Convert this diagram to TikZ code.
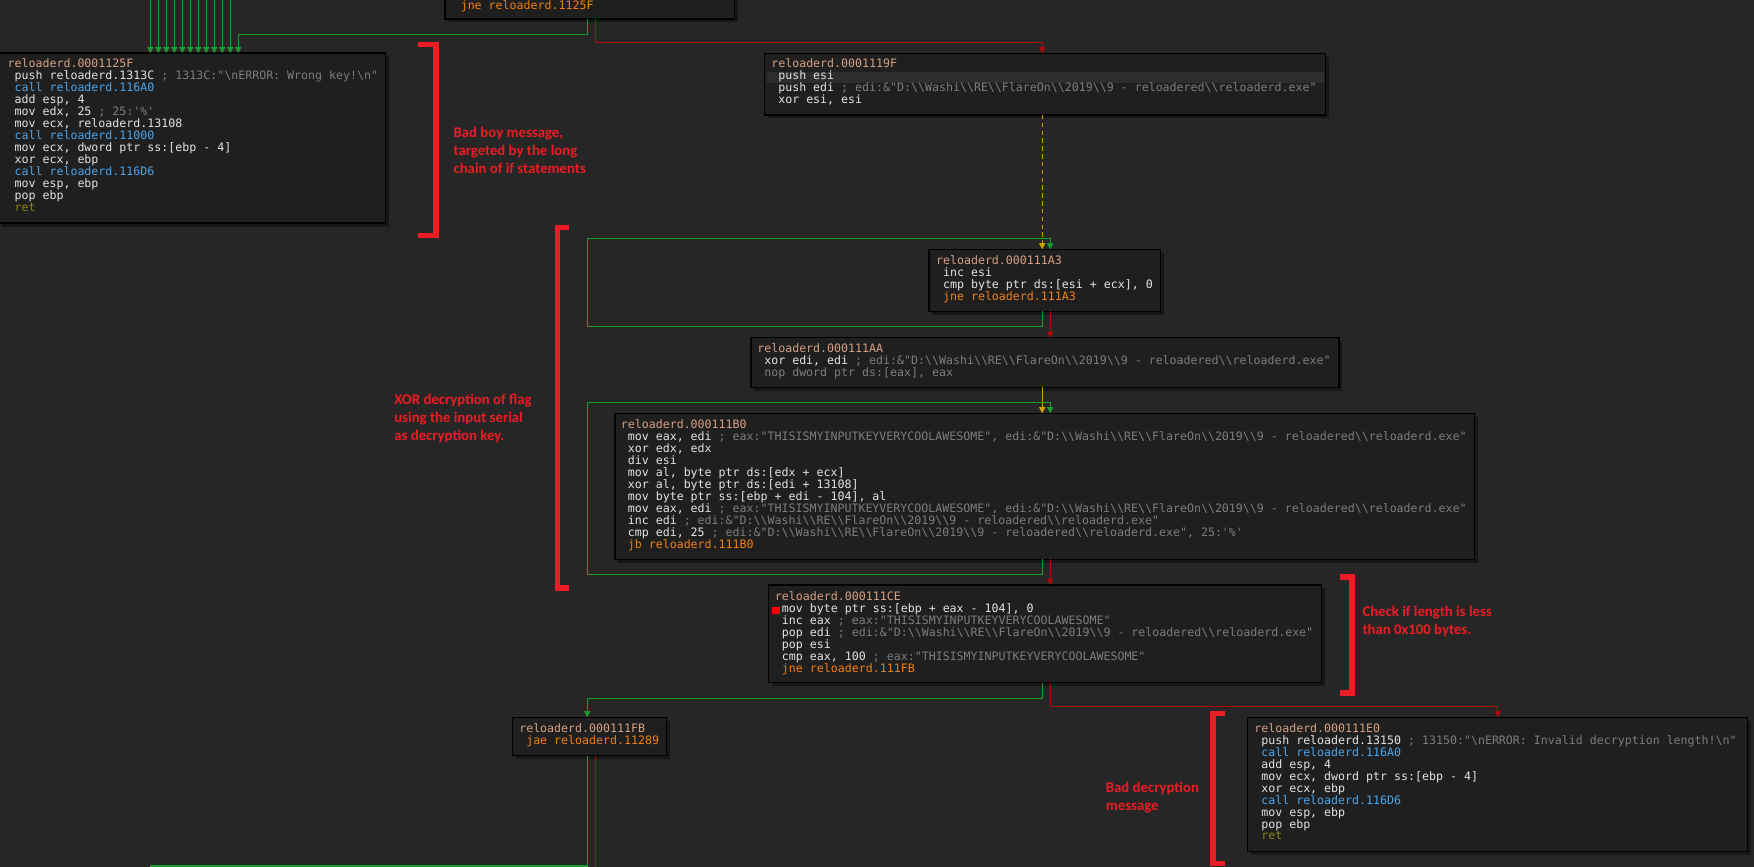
\documentclass[tikz,border=0pt]{standalone}
\usepackage{fontspec}
\setmonofont{DejaVu Sans Mono}
\newfontfamily\lblfamily{Carlito}
\usetikzlibrary{arrows.meta}

\definecolor{bgc}{RGB}{38,38,38}
\definecolor{boxc}{RGB}{31,31,31}
\definecolor{shadowc}{RGB}{22,22,22}
\definecolor{hlc}{RGB}{45,45,45}
\definecolor{addrc}{RGB}{214,160,130}
\definecolor{insc}{RGB}{228,228,228}
\definecolor{cmtc}{RGB}{125,125,125}
\definecolor{callc}{RGB}{75,165,235}
\definecolor{jmpc}{RGB}{240,128,20}
\definecolor{retc}{RGB}{135,135,20}
\definecolor{gedgec}{RGB}{25,155,45}
\definecolor{redgec}{RGB}{175,10,10}
\definecolor{yedgec}{RGB}{205,160,0}
\definecolor{notec}{RGB}{237,28,36}

\newcommand\codefont{\ttfamily\fontsize{10.38}{10.7}\selectfont\lineskiplimit=-100pt\frenchspacing}
\newcommand\notefont{\lblfamily\bfseries\fontsize{13.2}{16.1}\selectfont\lineskiplimit=-100pt}
\newcommand\asmH[1]{\hbox{\color{addrc}#1}}
\newcommand\asmI[1]{\hbox{\hphantom{0}#1}}
\newcommand\Cm[1]{\textcolor{cmtc}{#1}}
\newcommand\Cl[1]{\textcolor{callc}{#1}}
\newcommand\Jp[1]{\textcolor{jmpc}{#1}}
\newcommand\Rt[1]{\textcolor{retc}{#1}}
\newcommand\dbs{\textbackslash\textbackslash}
\newcommand\PathStr{"D:\dbs Washi\dbs RE\dbs FlareOn\dbs 2019\dbs 9 - reloadered\dbs reloaderd.exe"}
\newcommand\KeyStr{"THISISMYINPUTKEYVERYCOOLAWESOME"}

\tikzset{
  blk/.style={draw=black, fill=boxc, line width=1.3pt, inner sep=0pt, outer sep=0pt},
  code/.style={anchor=base west, inner sep=0pt, outer sep=0pt, text=insc, font=\codefont},
  note/.style={anchor=base west, inner sep=0pt, outer sep=0pt, text=notec, font=\notefont},
  edge/.style={line width=1pt, -{Triangle[width=5.5pt,length=5.5pt]}},
  gedge/.style={edge, draw=gedgec},
  redge/.style={edge, draw=redgec},
  yedge/.style={edge, draw=yedgec},
  plain/.style={line width=1pt},
  brk/.style={draw=notec, line width=5pt, line join=miter}
}

\newcommand\asmblock[5]{%
  \fill[shadowc] ({(#2)+3},{(#3)+3}) rectangle ({(#4)+3},{(#5)+3});
  \node[blk, minimum width={(#4)-(#2)}, minimum height={(#5)-(#3)}, anchor=north west] (#1) at (#2,#3) {};
}

\begin{document}
\begin{tikzpicture}[x=1pt, y=-1pt]
\useasboundingbox (0,0) rectangle (1568,775);
\clip (0,0) rectangle (1568,775);
\fill[bgc] (0,0) rectangle (1568,775);

% column coordinates
\coordinate (cL) at (931.7,0);
\coordinate (cR) at (938.8,0);
\coordinate (dL) at (525,0);
\coordinate (dR) at (532.4,0);
\coordinate (bIn) at (213,0);
\coordinate (iIn) at (1339,0);
\coordinate (loopD) at (525,213);
\coordinate (loopF) at (525,359.7);
\coordinate (hEnd) at (134,774.2);
\coordinate (hRed) at (532.4,790);

% blocks
\asmblock{A}{398}{-30}{656.5}{17}
\asmblock{B}{-1}{47.5}{344.5}{199.5}
\asmblock{C}{683.5}{47.7}{1185}{102.8}
\asmblock{D}{830.5}{222.9}{1037.4}{278.3}
\asmblock{E}{671.4}{301.9}{1197}{346.2}
\asmblock{F}{549.8}{369.5}{1318}{500}
\asmblock{G}{687}{523}{1181.5}{610.3}
\asmblock{H}{458.2}{641.3}{596}{675.6}
\asmblock{I}{1115.2}{641.3}{1562}{761}

% highlighted row in C and breakpoint marker in G
\fill[hlc] (685.5,64.1) rectangle (1184,74.5);
\fill[red] (690.5,542.3) rectangle (697,549);

% edges
\foreach \k in {0,...,10}{
  \coordinate (gt\k) at ({134.4+7.15*\k},-5);
  \draw[gedge] (gt\k) -- (gt\k |- B.north);
}
\draw[gedge] (A.south -| dL) -- ++(0,13.6) -| (B.north -| bIn);
\draw[redge] (A.south -| dR) -- ++(0,20.9) -| (C.north -| cL);
\draw[yedge, dash pattern=on 4pt off 3pt] (C.south -| cL) -- (D.north -| cL);
\draw[gedge] (D.south -| cL) -- ++(0,13.2) -| (loopD) -| (D.north -| cR);
\draw[redge] (D.south -| cR) -- (E.north -| cR);
\draw[yedge] (E.south -| cL) -- (F.north -| cL);
\draw[gedge] (F.south -| cL) -- ++(0,13.4) -| (loopF) -| (F.north -| cR);
\draw[redge] (F.south -| cR) -- (G.north -| cR);
\draw[gedge] (G.south -| cL) -- ++(0,14.2) -| (H.north -| dL);
\draw[redge] (G.south -| cR) -- ++(0,21.5) -| (I.north -| iIn);
\draw[plain, draw=gedgec] (H.south -| dL) |- (hEnd);
\draw[plain, draw=redgec] (H.south -| dR) -- (hRed);

% block texts
\node[code] (tA) at (411.9,8.6) {\hbox{\Jp{jne reloaderd.1125F}}};

\node[code] (tB) at (6.8,60.7) {\vtop{%
\asmH{reloaderd.0001125F}
\asmI{push reloaderd.1313C\Cm{\ ; 1313C:"\textbackslash nERROR: Wrong key!\textbackslash n"}}
\asmI{\Cl{call reloaderd.116A0}}
\asmI{add esp, 4}
\asmI{mov edx, 25\Cm{\ ; 25:'\%'}}
\asmI{mov ecx, reloaderd.13108}
\asmI{\Cl{call reloaderd.11000}}
\asmI{mov ecx, dword ptr ss:[ebp - 4]}
\asmI{xor ecx, ebp}
\asmI{\Cl{call reloaderd.116D6}}
\asmI{mov esp, ebp}
\asmI{pop ebp}
\asmI{\Rt{ret}}}};

\node[code] (tC) at (689.5,60.7) {\vtop{%
\asmH{reloaderd.0001119F}
\asmI{push esi}
\asmI{push edi\Cm{\ ; edi:\&\PathStr}}
\asmI{xor esi, esi}}};

\node[code] (tD) at (836.8,236.5) {\vtop{%
\asmH{reloaderd.000111A3}
\asmI{inc esi}
\asmI{cmp byte ptr ds:[esi + ecx], 0}
\asmI{\Jp{jne reloaderd.111A3}}}};

\node[code] (tE) at (677,315.2) {\vtop{%
\asmH{reloaderd.000111AA}
\asmI{xor edi, edi\Cm{\ ; edi:\&\PathStr}}
\asmI{\Cm{nop dword ptr ds:[eax], eax}}}};

\node[code] (tF) at (555,383.4) {\vtop{%
\asmH{reloaderd.000111B0}
\asmI{mov eax, edi\Cm{\ ; eax:\KeyStr, edi:\&\PathStr}}
\asmI{xor edx, edx}
\asmI{div esi}
\asmI{mov al, byte ptr ds:[edx + ecx]}
\asmI{xor al, byte ptr ds:[edi + 13108]}
\asmI{mov byte ptr ss:[ebp + edi - 104], al}
\asmI{mov eax, edi\Cm{\ ; eax:\KeyStr, edi:\&\PathStr}}
\asmI{inc edi\Cm{\ ; edi:\&\PathStr}}
\asmI{cmp edi, 25\Cm{\ ; edi:\&\PathStr, 25:'\%'}}
\asmI{\Jp{jb reloaderd.111B0}}}};

\node[code] (tG) at (692.8,536.6) {\vtop{%
\asmH{reloaderd.000111CE}
\asmI{mov byte ptr ss:[ebp + eax - 104], 0}
\asmI{inc eax\Cm{\ ; eax:\KeyStr}}
\asmI{pop edi\Cm{\ ; edi:\&\PathStr}}
\asmI{pop esi}
\asmI{cmp eax, 100\Cm{\ ; eax:\KeyStr}}
\asmI{\Jp{jne reloaderd.111FB}}}};

\node[code] (tH) at (464.2,654.9) {\vtop{%
\asmH{reloaderd.000111FB}
\asmI{\Jp{jae reloaderd.11289}}}};

\node[code] (tI) at (1121.3,654.6) {\vtop{%
\asmH{reloaderd.000111E0}
\asmI{push reloaderd.13150\Cm{\ ; 13150:"\textbackslash nERROR: Invalid decryption length!\textbackslash n"}}
\asmI{\Cl{call reloaderd.116A0}}
\asmI{add esp, 4}
\asmI{mov ecx, dword ptr ss:[ebp - 4]}
\asmI{xor ecx, ebp}
\asmI{\Cl{call reloaderd.116D6}}
\asmI{mov esp, ebp}
\asmI{pop ebp}
\asmI{\Rt{ret}}}};

% annotation brackets
\draw[brk] (373.6,39.8) -- (389.5,39.8) -- (389.5,210.5) -- (373.6,210.5);
\draw[brk] (509,203.5) -- (498.5,203.5) -- (498.5,525.5) -- (509,525.5);
\draw[brk] (1198,516) -- (1208.8,516) -- (1208.8,619.7) -- (1198,619.7);
\draw[brk] (1095,638) -- (1084.6,638) -- (1084.6,772) -- (1095,772);

% annotations
\node[note] (n1) at (405.5,122.8) {\vtop{\hbox{Bad boy message,}\hbox{targeted by the long}\hbox{chain of if statements}}};
\node[note] (n2) at (352.5,361.8) {\vtop{\hbox{XOR decryption of flag}\hbox{using the input serial}\hbox{as decryption key.}}};
\node[note] (n3) at (1218,551) {\vtop{\hbox{Check if length is less}\hbox{than 0x100 bytes.}}};
\node[note] (n4) at (988.6,708.4) {\vtop{\hbox{Bad decryption}\hbox{message}}};
\end{tikzpicture}
\end{document}
